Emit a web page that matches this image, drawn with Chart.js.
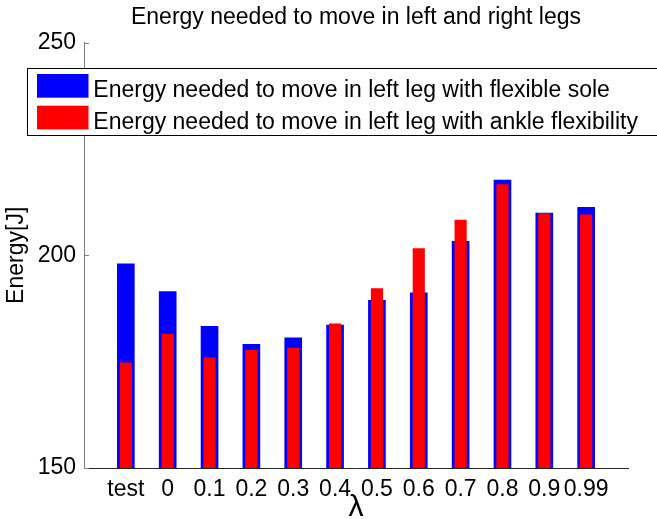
<!DOCTYPE html>
<html><head><meta charset="utf-8">
<script src="https://cdn.jsdelivr.net/npm/chart.js@4"></script>
<style>html,body{margin:0;padding:0;background:#fff;overflow:hidden}</style>
</head><body>
<canvas id="c" width="657" height="519"></canvas>
<script>
const categories = ['test','0','0.1','0.2','0.3','0.4','0.5','0.6','0.7','0.8','0.9','0.99'];
const flexibleSole = [198.0,191.5,183.3,179.1,180.6,183.6,189.4,191.2,203.3,217.7,209.9,211.3];
const ankleFlex = [174.7,181.5,175.9,177.7,178.2,183.9,192.2,201.6,208.3,216.6,209.8,209.5];
const yTicks = [150,200,250];
const seriesLabels = ['Energy needed to move in left leg with flexible sole','Energy needed to move in left leg with ankle flexibility'];
const seriesColors = ['#0000ff','#ff0000'];

const FONT = 'Liberation Sans, Arial, Helvetica, sans-serif';

const overlay = {
  id: 'overlay',
  afterDatasetsDraw(chart) {
    const ctx = chart.ctx, y = chart.scales.y, x = chart.scales.x;
    ctx.save();
    ctx.strokeStyle = '#808080'; ctx.lineWidth = 1;
    yTicks.forEach(v => {
      const py = Math.round(y.getPixelForValue(v)) + 0.5;
      ctx.beginPath(); ctx.moveTo(x.left, py); ctx.lineTo(x.left + 5, py); ctx.stroke();
    });
    ctx.restore();
  },
  afterDraw(chart) {
    const ctx = chart.ctx;
    ctx.save();
    ctx.fillStyle = '#fff';
    ctx.fillRect(27.5, 68.5, 640, 67);
    ctx.strokeStyle = '#000'; ctx.lineWidth = 1;
    ctx.strokeRect(27.5, 68.5, 640, 67);
    ctx.font = '23px ' + FONT;
    ctx.textBaseline = 'alphabetic';
    ctx.textAlign = 'left';
    chart.data.datasets.forEach((ds, i) => {
      const top = 74 + i * 31.7;
      ctx.fillStyle = ds.backgroundColor;
      ctx.fillRect(37, top, 51.5, 23.7);
      ctx.fillStyle = '#000';
      ctx.fillText(ds.label, 93.3, top + 23);
    });
    ctx.restore();
  }
};

new Chart(document.getElementById('c'), {
  type: 'bar',
  data: {
    datasets: [
      { label: seriesLabels[0], data: categories.map((c, i) => ({ x: i + 1, y: flexibleSole[i] })),
        backgroundColor: seriesColors[0], barThickness: 17, order: 2, base: 150 },
      { label: seriesLabels[1], data: categories.map((c, i) => ({ x: i + 1, y: ankleFlex[i] })),
        backgroundColor: seriesColors[1], barThickness: 11.5, order: 1, base: 150 }
    ]
  },
  options: {
    responsive: false, animation: false, devicePixelRatio: 1,
    layout: { padding: { left: 0, right: 29, top: 0, bottom: 0 } },
    datasets: { bar: { grouped: false } },
    plugins: {
      legend: { display: false },
      tooltip: { enabled: false },
      title: { display: true, text: 'Energy needed to move in left and right legs', fullSize: false, color: '#000',
        font: { family: FONT, size: 23, weight: 'normal', lineHeight: 1.2 }, padding: { top: 4, bottom: 11 } }
    },
    scales: {
      x: {
        type: 'linear', min: 0, max: 13, offset: false,
        grid: { display: false, drawTicks: false },
        border: { display: true, color: '#262626', width: 1 },
        afterBuildTicks(s) { s.ticks = categories.map((c, i) => ({ value: i + 1 })); },
        ticks: { autoSkip: false, maxRotation: 0, minRotation: 0, padding: 8, color: '#000',
          font: { family: FONT, size: 23 }, callback: (v) => categories[v - 1] ?? '' },
        title: { display: true, text: 'λ', color: '#000', font: { family: FONT, size: 30, lineHeight: 1 }, padding: { top: 0, bottom: -4 } },
        afterFit(s) { s.height = 51; }
      },
      y: {
        min: 150, max: 250,
        afterBuildTicks(s) { s.ticks = yTicks.map(v => ({ value: v })); },
        grid: { display: false, drawTicks: false },
        border: { display: true, color: '#808080', width: 1 },
        ticks: { padding: 8, color: '#000', font: { family: FONT, size: 23 } },
        title: { display: true, text: 'Energy[J]', color: '#000', font: { family: FONT, size: 23, lineHeight: 1.2 }, padding: { top: 3, bottom: 0 } },
        afterFit(s) { s.width = 84; }
      }
    }
  },
  plugins: [overlay]
});
</script>
</body></html>
